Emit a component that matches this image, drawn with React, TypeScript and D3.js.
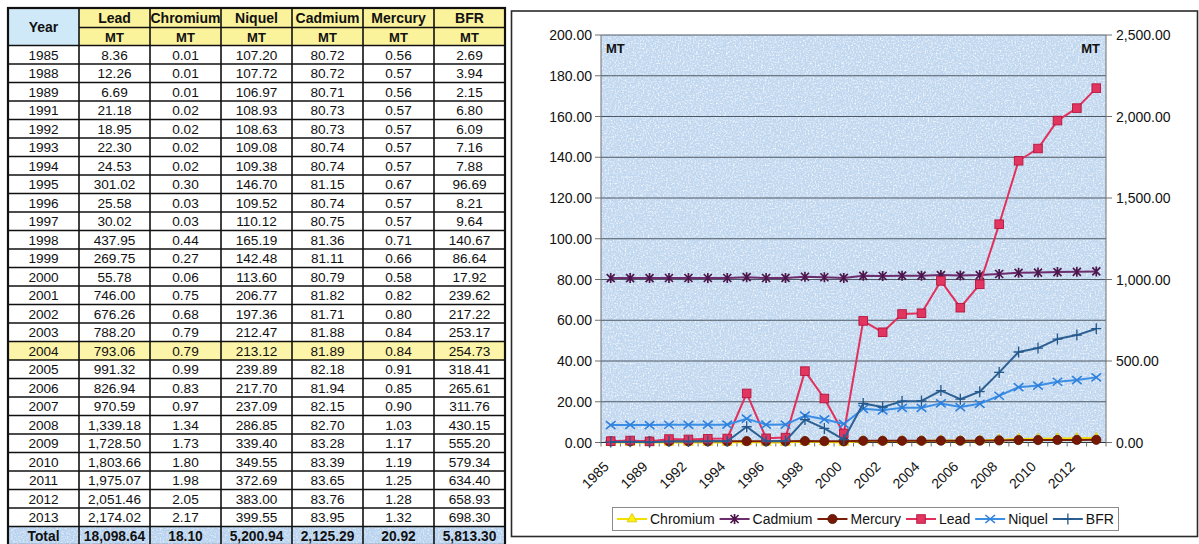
import React, { useMemo } from "react";
import * as d3 from "d3";

// ---- Data ----
const years = [
  "1985", "1988", "1989", "1991", "1992", "1993", "1994", "1995", "1996",
  "1997", "1998", "1999", "2000", "2001", "2002", "2003", "2004", "2005",
  "2006", "2007", "2008", "2009", "2010", "2011", "2012", "2013",
];
const lead = [
  8.36, 12.26, 6.69, 21.18, 18.95, 22.3, 24.53, 301.02, 25.58, 30.02, 437.95,
  269.75, 55.78, 746.0, 676.26, 788.2, 793.06, 991.32, 826.94, 970.59, 1339.18,
  1728.5, 1803.66, 1975.07, 2051.46, 2174.02,
];
const chromium = [
  0.01, 0.01, 0.01, 0.02, 0.02, 0.02, 0.02, 0.3, 0.03, 0.03, 0.44, 0.27, 0.06,
  0.75, 0.68, 0.79, 0.79, 0.99, 0.83, 0.97, 1.34, 1.73, 1.8, 1.98, 2.05, 2.17,
];
const niquel = [
  107.2, 107.72, 106.97, 108.93, 108.63, 109.08, 109.38, 146.7, 109.52, 110.12,
  165.19, 142.48, 113.6, 206.77, 197.36, 212.47, 213.12, 239.89, 217.7, 237.09,
  286.85, 339.4, 349.55, 372.69, 383.0, 399.55,
];
const cadmium = [
  80.72, 80.72, 80.71, 80.73, 80.73, 80.74, 80.74, 81.15, 80.74, 80.75, 81.36,
  81.11, 80.79, 81.82, 81.71, 81.88, 81.89, 82.18, 81.94, 82.15, 82.7, 83.28,
  83.39, 83.65, 83.76, 83.95,
];
const mercury = [
  0.56, 0.57, 0.56, 0.57, 0.57, 0.57, 0.57, 0.67, 0.57, 0.57, 0.71, 0.66, 0.58,
  0.82, 0.8, 0.84, 0.84, 0.91, 0.85, 0.9, 1.03, 1.17, 1.19, 1.25, 1.28, 1.32,
];
const bfr = [
  2.69, 3.94, 2.15, 6.8, 6.09, 7.16, 7.88, 96.69, 8.21, 9.64, 140.67, 86.64,
  17.92, 239.62, 217.22, 253.17, 254.73, 318.41, 265.61, 311.76, 430.15, 555.2,
  579.34, 634.4, 658.93, 698.3,
];
// Printed column totals (Lead, Chromium, Niquel, Cadmium, Mercury, BFR)
const totals = [18098.64, 18.1, 5200.94, 2125.29, 20.92, 5813.3];
const tableColumns = ["Lead", "Chromium", "Niquel", "Cadmium", "Mercury", "BFR"];
const unit = "MT";
const highlightYear = "2004";

type Marker = "triangle" | "asterisk" | "circle" | "square" | "x" | "plus";
interface Series {
  name: string;
  values: number[];
  axis: "left" | "right";
  color: string;
  markerFill: string;
  markerStroke: string;
  marker: Marker;
}

// Draw order follows the legend: primary-axis series first, then secondary.
const series: Series[] = [
  { name: "Chromium", values: chromium, axis: "left", color: "#f4e000", markerFill: "#ffef10", markerStroke: "#d8c400", marker: "triangle" },
  { name: "Cadmium", values: cadmium, axis: "left", color: "#6d2c6d", markerFill: "none", markerStroke: "#4b174b", marker: "asterisk" },
  { name: "Mercury", values: mercury, axis: "left", color: "#7a1e08", markerFill: "#761806", markerStroke: "#5a1004", marker: "circle" },
  { name: "Lead", values: lead, axis: "right", color: "#e0305c", markerFill: "#e23560", markerStroke: "#b3173f", marker: "square" },
  { name: "Niquel", values: niquel, axis: "right", color: "#3b8ee6", markerFill: "none", markerStroke: "#2f80dc", marker: "x" },
  { name: "BFR", values: bfr, axis: "right", color: "#2c5f92", markerFill: "none", markerStroke: "#24578a", marker: "plus" },
];

const FONT = "'Liberation Sans', Arial, Helvetica, sans-serif";
const fmt = d3.format(",.2f");

function MarkerShape({ type, fill, stroke }: { type: Marker; fill: string; stroke: string }) {
  switch (type) {
    case "triangle":
      return <path d={d3.symbol(d3.symbolTriangle, 42)() || ""} fill={fill} stroke={stroke} strokeWidth={0.8} />;
    case "asterisk":
      return <path d="M-4,-4L4,4M-4,4L4,-4M0,-5L0,5" fill="none" stroke={stroke} strokeWidth={1.7} />;
    case "circle":
      return <circle r={4.6} fill={fill} stroke={stroke} strokeWidth={0.8} />;
    case "square":
      return <rect x={-4.3} y={-4.3} width={8.6} height={8.6} fill={fill} stroke={stroke} strokeWidth={0.9} />;
    case "x":
      return <path d="M-4.8,-4L4.8,4M-4.8,4L4.8,-4" fill="none" stroke={stroke} strokeWidth={1.6} />;
    case "plus":
      return <path d="M-5,0L5,0M0,-5.5L0,5.5" fill="none" stroke={stroke} strokeWidth={1.3} />;
  }
}

function measure(text: string, font: string): number {
  const c = document.createElement("canvas").getContext("2d");
  if (!c) return text.length * 7;
  c.font = font;
  return c.measureText(text).width;
}

function DataTable() {
  const colNames = ["Year", ...tableColumns];
  const col = d3.scaleBand<string>().domain(colNames).range([8, 505]);
  const rowKeys = [...years, "Total"];
  const row = d3.scaleBand<string>().domain(rowKeys).range([45.5, 545]);
  const headTop = 8;
  const headMid = 27.5;
  const headBottom = 45.5;
  const rh = row.bandwidth();
  const bodyCols: number[][] = [lead, chromium, niquel, cadmium, mercury, bfr];

  return (
    <g fontFamily={FONT}>
      {/* header cells */}
      <rect x={col("Year")!} y={headTop} width={col.bandwidth()} height={headBottom - headTop} fill="#cfe9f8" />
      {tableColumns.map((c) => (
        <rect key={c} x={col(c)!} y={headTop} width={col.bandwidth()} height={headBottom - headTop} fill="#fbf29c" />
      ))}
      {/* highlighted row and total row */}
      <rect x={8} y={row(highlightYear)!} width={497} height={rh} fill="#fcf4a8" />
      <rect x={8} y={row("Total")!} width={497} height={rh} fill="#b9d3ef" />
      <rect x={8} y={row("Total")!} width={497} height={rh} filter="url(#speckle)" opacity={0.7} />

      {/* header text */}
      <text x={col("Year")! + col.bandwidth() / 2} y={31.5} textAnchor="middle" fontSize={14} fontWeight="bold" fill="#111">
        Year
      </text>
      {tableColumns.map((c) => (
        <g key={c}>
          <text x={col(c)! + col.bandwidth() / 2} y={23} textAnchor="middle" fontSize={14} fontWeight="bold" fill="#111">
            {c}
          </text>
          <text x={col(c)! + col.bandwidth() / 2} y={41.5} textAnchor="middle" fontSize={13} fontWeight="bold" fill="#111">
            {unit}
          </text>
        </g>
      ))}

      {/* body */}
      {years.map((yr, i) => (
        <g key={yr} fontSize={13.6} fill="#111">
          <text x={col("Year")! + col.bandwidth() / 2} y={row(yr)! + 14.2} textAnchor="middle">
            {yr}
          </text>
          {tableColumns.map((c, j) => (
            <text key={c} x={col(c)! + col.bandwidth() / 2} y={row(yr)! + 14.2} textAnchor="middle">
              {fmt(bodyCols[j][i])}
            </text>
          ))}
        </g>
      ))}
      <g fontSize={13.8} fontWeight="bold" fill="#111">
        <text x={col("Year")! + col.bandwidth() / 2} y={row("Total")! + 14.2} textAnchor="middle">
          Total
        </text>
        {tableColumns.map((c, j) => (
          <text key={c} x={col(c)! + col.bandwidth() / 2} y={row("Total")! + 14.2} textAnchor="middle">
            {fmt(totals[j])}
          </text>
        ))}
      </g>

      {/* grid lines */}
      <g stroke="#111" strokeWidth={1.6}>
        <line x1={col("Lead")!} x2={505} y1={headMid} y2={headMid} />
        <line x1={8} x2={505} y1={headBottom} y2={headBottom} />
        {rowKeys.slice(1).map((k) => (
          <line key={k} x1={8} x2={505} y1={row(k)!} y2={row(k)!} />
        ))}
        {colNames.slice(1).map((c) => (
          <line key={c} x1={col(c)!} x2={col(c)!} y1={headTop} y2={545} />
        ))}
      </g>
      <rect x={8} y={headTop} width={497} height={545 - headTop} fill="none" stroke="#111" strokeWidth={2.2} />
    </g>
  );
}

function LineChart() {
  const left = 601;
  const right = 1106;
  const top = 35;
  const bottom = 442.5;

  const x = d3.scaleBand<string>().domain(years).range([left, right]);
  const cx = (yr: string) => x(yr)! + x.bandwidth() / 2;
  const yL = d3.scaleLinear().domain([0, 200]).range([bottom, top]);
  const yR = d3.scaleLinear().domain([0, 2500]).range([bottom, top]);
  const leftTicks = yL.ticks(10);
  const rightTicks = yR.ticks(5);

  const legendFont = `14px ${FONT}`;
  const legendItems = useMemo(() => {
    let pos = 617;
    return series.map((s) => {
      const w = measure(s.name, legendFont);
      const item = { s, x: pos };
      pos += 33 + w + 5;
      return item;
    });
  }, []);

  return (
    <g fontFamily={FONT}>
      {/* frame */}
      <rect x={511.5} y={11} width={686} height={525.5} fill="#fff" stroke="#2a2a2a" strokeWidth={1.6} />

      {/* plot area with a mottled blue fill */}
      <rect x={left} y={top} width={right - left} height={bottom - top} fill="#c2d8ef" />
      <rect x={left} y={top} width={right - left} height={bottom - top} filter="url(#speckle)" opacity={0.95} />
      <rect x={left} y={top} width={right - left} height={bottom - top} filter="url(#speckleDark)" opacity={0.45} />

      {/* horizontal grid */}
      <g stroke="#4e5865" strokeWidth={1}>
        {leftTicks.map((t) => (
          <line key={t} x1={left} x2={right} y1={yL(t)} y2={yL(t)} />
        ))}
      </g>

      {/* axes */}
      <g stroke="#707070" strokeWidth={1}>
        <line x1={left} x2={left} y1={top} y2={bottom} />
        <line x1={right} x2={right} y1={top} y2={bottom} />
        <line x1={left} x2={right} y1={bottom} y2={bottom} stroke="#333" />
        {leftTicks.map((t) => (
          <line key={t} x1={left - 6} x2={left} y1={yL(t)} y2={yL(t)} />
        ))}
        {rightTicks.map((t) => (
          <line key={t} x1={right} x2={right + 6} y1={yR(t)} y2={yR(t)} />
        ))}
        {years.map((yr) => (
          <line key={yr} x1={x(yr)!} x2={x(yr)!} y1={bottom} y2={bottom + 4} />
        ))}
        <line x1={right} x2={right} y1={bottom} y2={bottom + 4} />
      </g>

      {/* tick labels */}
      <g fontSize={14} fill="#111">
        {leftTicks.map((t) => (
          <text key={t} x={left - 9} y={yL(t) + 5} textAnchor="end">
            {fmt(t)}
          </text>
        ))}
        {rightTicks.map((t) => (
          <text key={t} x={right + 10} y={yR(t) + 5} textAnchor="start">
            {fmt(t)}
          </text>
        ))}
        {years.map((yr, i) =>
          i % 2 === 0 ? (
            <text key={yr} transform={`translate(${cx(yr) - 1},${bottom + 25}) rotate(-45)`} textAnchor="end">
              {yr}
            </text>
          ) : null
        )}
      </g>

      {/* unit labels */}
      <text x={606} y={53} fontSize={13} fontWeight="bold" fill="#111">
        {unit}
      </text>
      <text x={1100} y={53} fontSize={13} fontWeight="bold" fill="#111" textAnchor="end">
        {unit}
      </text>

      {/* series */}
      {series.map((s) => {
        const yS = s.axis === "left" ? yL : yR;
        const line = d3
          .line<number>()
          .x((_, i) => cx(years[i]))
          .y((v) => yS(v));
        return (
          <g key={s.name}>
            <path d={line(s.values) || ""} fill="none" stroke={s.color} strokeWidth={2} strokeLinejoin="round" />
            {s.values.map((v, i) => (
              <g key={i} transform={`translate(${cx(years[i])},${yS(v)})`}>
                <MarkerShape type={s.marker} fill={s.markerFill} stroke={s.markerStroke} />
              </g>
            ))}
          </g>
        );
      })}

      {/* legend */}
      <rect x={612.5} y={507.5} width={506} height={23} fill="#fff" stroke="#8a8a8a" strokeWidth={1} />
      {legendItems.map(({ s, x: lx }) => (
        <g key={s.name} transform={`translate(${lx},519)`}>
          <line x1={0} x2={30} y1={0} y2={0} stroke={s.color} strokeWidth={2} />
          <g transform="translate(15,0)">
            <MarkerShape type={s.marker} fill={s.markerFill} stroke={s.markerStroke} />
          </g>
          <text x={33} y={5} fontSize={14} fill="#111">
            {s.name}
          </text>
        </g>
      ))}
    </g>
  );
}

export default function App() {
  return (
    <svg
      width={1199}
      height={544}
      viewBox="0 0 1199 544"
      style={{ position: "absolute", left: 0, top: 0, background: "#fff" }}
    >
      <defs>
        <filter id="speckle" x="0" y="0" width="100%" height="100%">
          <feTurbulence type="fractalNoise" baseFrequency="0.6" numOctaves={3} seed={4} result="n" />
          <feColorMatrix in="n" type="matrix" values="0 0 0 0 0.93  0 0 0 0 0.96  0 0 0 0 1  0 0 0 2.6 -1.15" />
        </filter>
        <filter id="speckleDark" x="0" y="0" width="100%" height="100%">
          <feTurbulence type="fractalNoise" baseFrequency="0.5" numOctaves={3} seed={11} result="n" />
          <feColorMatrix in="n" type="matrix" values="0 0 0 0 0.5  0 0 0 0 0.65  0 0 0 0 0.86  0 0 0 2.6 -1.2" />
        </filter>
      </defs>
      <DataTable />
      <LineChart />
    </svg>
  );
}
